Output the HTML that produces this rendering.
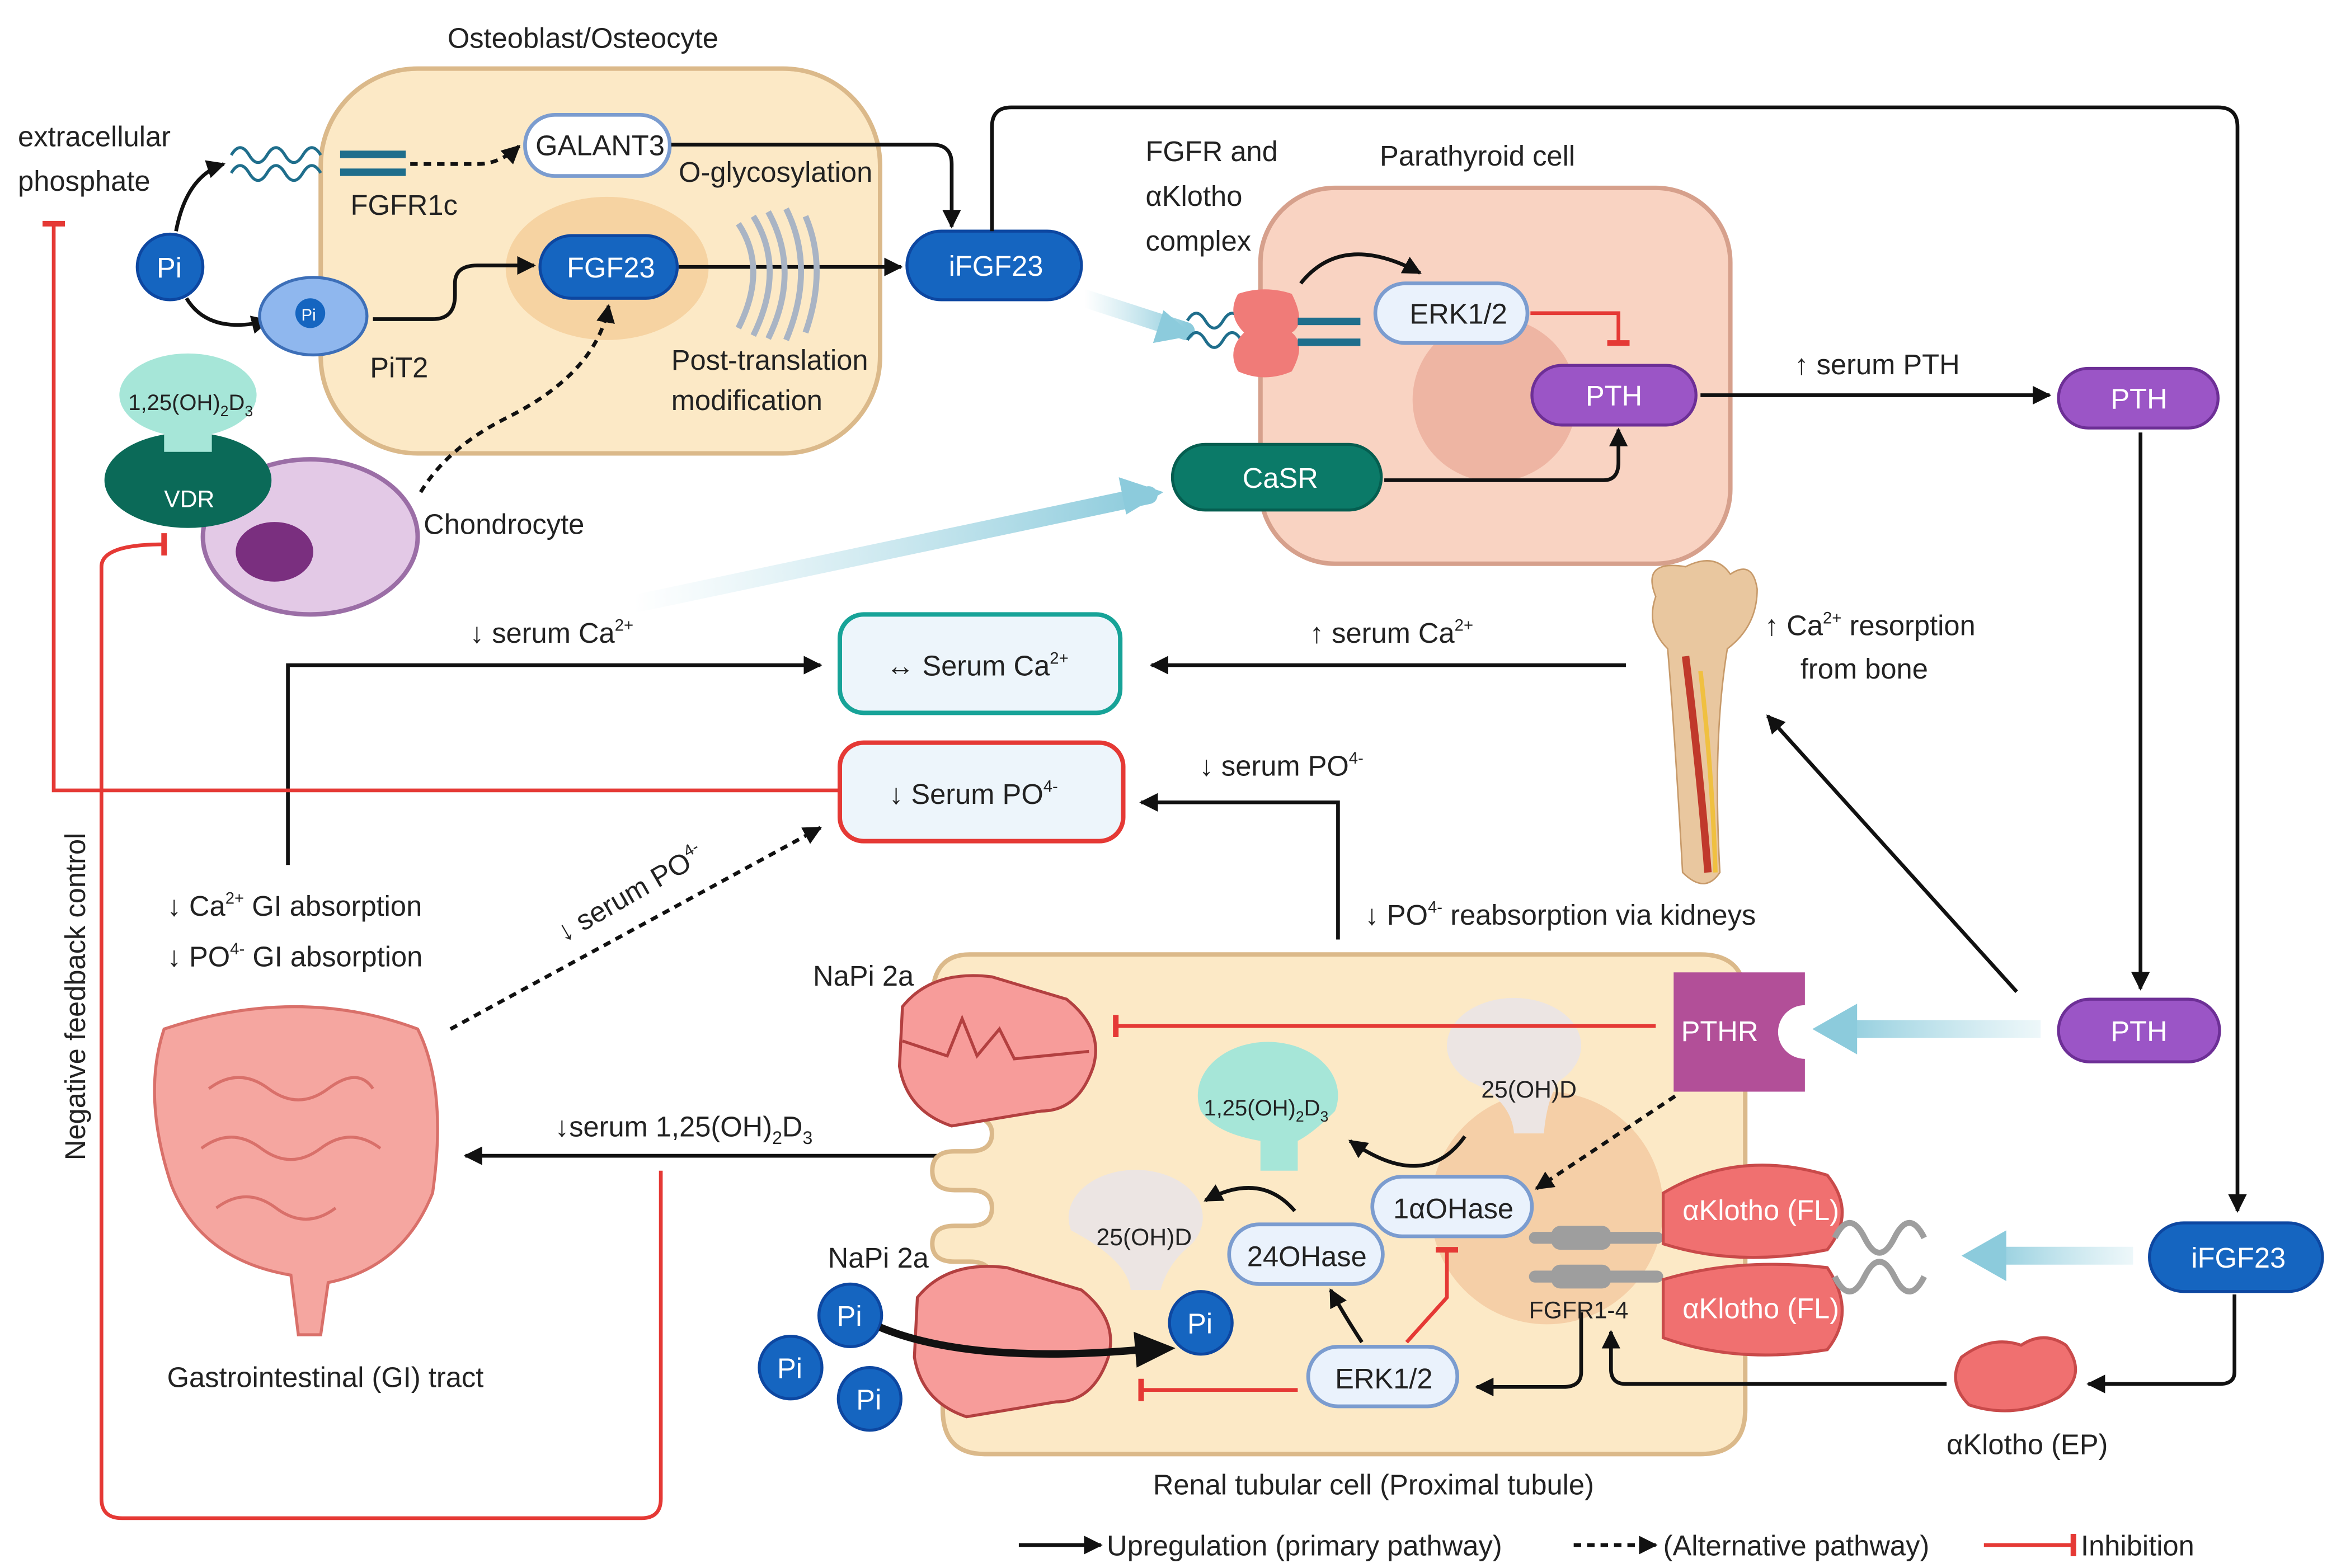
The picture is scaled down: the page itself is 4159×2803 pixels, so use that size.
<!DOCTYPE html>
<html><head><meta charset="utf-8"><style>
html,body{margin:0;padding:0;background:#fff}
svg{display:block}
text{font-family:"Liberation Sans",sans-serif;fill:#222}
</style></head><body>
<svg width="4159" height="2803" viewBox="0 0 1560 1051.4" xmlns="http://www.w3.org/2000/svg">
<defs>
<marker id="a" viewBox="0 0 10 10" refX="9" refY="5" markerWidth="5" markerHeight="5" orient="auto"><path d="M0,0L10,5L0,10z" fill="#111"/></marker>
<marker id="r" viewBox="0 0 10 10" refX="5" refY="5" markerWidth="6" markerHeight="6" orient="auto"><path d="M5,0V10" stroke="#e53935" stroke-width="2.5"/></marker>
<linearGradient id="bl" x1="0" x2="1"><stop offset="0" stop-color="#a7d8e4" stop-opacity="0"/><stop offset="1" stop-color="#8ccbdc"/></linearGradient>
<linearGradient id="bl2" gradientUnits="userSpaceOnUse" x1="1368" y1="0" x2="1230" y2="0"><stop offset="0" stop-color="#a7d8e4" stop-opacity="0.2"/><stop offset="1" stop-color="#8ccbdc"/></linearGradient>
<linearGradient id="bl3" gradientUnits="userSpaceOnUse" x1="1430" y1="0" x2="1330" y2="0"><stop offset="0" stop-color="#a7d8e4" stop-opacity="0.2"/><stop offset="1" stop-color="#8ccbdc"/></linearGradient>
</defs>
<g font-size="19">
<!-- Osteoblast -->
<text x="300" y="32">Osteoblast/Osteocyte</text>
<rect x="215" y="46" width="375" height="258" rx="65" fill="#fce9c6" stroke="#dbb98a" stroke-width="3"/>
<ellipse cx="407" cy="180" rx="68" ry="48" fill="#f6d3a2"/>
<text x="12" y="98">extracellular</text><text x="12" y="128">phosphate</text>
<circle cx="114" cy="179" r="22" fill="#1565c0" stroke="#0d47a1" stroke-width="2"/><text x="105" y="186" style="fill:#fff">Pi</text>
<path d="M118,155 Q125,118 150,110" fill="none" stroke="#111" stroke-width="2.5" marker-end="url(#a)"/>
<path d="M125,200 Q140,225 180,215" fill="none" stroke="#111" stroke-width="2.5" marker-end="url(#a)"/>
<path d="M155,104 q6,-10 12,0 t12,0 t12,0 t12,0 t12,0 M155,116 q6,-10 12,0 t12,0 t12,0 t12,0 t12,0" fill="none" stroke="#1f6e8c" stroke-width="2"/>
<rect x="228" y="101" width="44" height="5" fill="#1f6e8c"/><rect x="228" y="113" width="44" height="5" fill="#1f6e8c"/>
<text x="235" y="144">FGFR1c</text>
<path d="M275,110 H320 Q335,110 348,98" fill="none" stroke="#111" stroke-width="2.5" stroke-dasharray="5,4" marker-end="url(#a)"/>
<rect x="352" y="77" width="97" height="41" rx="20" fill="#fff" stroke="#7b9ccf" stroke-width="2.5"/><text x="359" y="104">GALANT3</text>
<text x="455" y="122">O-glycosylation</text>
<path d="M450,97 H625 Q638,97 638,110 V152" fill="none" stroke="#111" stroke-width="2.5" marker-end="url(#a)"/>
<ellipse cx="210" cy="212" rx="36" ry="26" fill="#8fb7ee" stroke="#3d6fb8" stroke-width="2"/>
<circle cx="208" cy="210" r="10" fill="#1565c0"/><text x="202" y="215" font-size="11" style="fill:#fff">Pi</text>
<text x="248" y="253">PiT2</text>
<path d="M250,214 H290 Q305,214 305,198 V190 Q305,178 320,178 H358" fill="none" stroke="#111" stroke-width="2.5" marker-end="url(#a)"/>
<rect x="362" y="158" width="92" height="42" rx="21" fill="#1565c0" stroke="#0d47a1" stroke-width="2"/><text x="380" y="186" style="fill:#fff">FGF23</text>
<path d="M455,179 H604" stroke="#111" stroke-width="2.5" marker-end="url(#a)"/>
<g stroke="#a9b4c4" stroke-width="4" fill="none"><path d="M495,150 q20,30 0,70"/><path d="M505,145 q22,35 0,80"/><path d="M515,142 q22,40 0,85"/><path d="M527,140 q20,40 0,88"/><path d="M540,145 q15,35 0,78"/></g>
<text x="450" y="248">Post-translation</text><text x="450" y="275">modification</text>
<rect x="608" y="155" width="117" height="46" rx="23" fill="#1565c0" stroke="#0d47a1" stroke-width="2"/><text x="636" y="185" style="fill:#fff">iFGF23</text>
<path d="M665,155 V85 Q665,72 678,72 H1487 Q1500,72 1500,85 V812" fill="none" stroke="#111" stroke-width="2.5" marker-end="url(#a)"/>
<!-- chondrocyte -->
<ellipse cx="208" cy="360" rx="72" ry="52" fill="#e3c9e6" stroke="#9b6ea6" stroke-width="3"/>
<ellipse cx="184" cy="370" rx="26" ry="20" fill="#7a2f7f"/>
<ellipse cx="126" cy="322" rx="56" ry="32" fill="#0b6a58"/><text x="110" y="340" font-size="16" style="fill:#fff">VDR</text>
<path d="M80,265 a46,28 0 1,1 92,0 a46,28 0 0,1 -30,26 v12 h-32 v-12 a46,28 0 0,1 -30,-26z" fill="#a6e6d8"/>
<text x="86" y="275" font-size="15">1,25(OH)<tspan font-size="10" dy="4">2</tspan><tspan dy="-4">D</tspan><tspan font-size="10" dy="4">3</tspan></text>
<text x="284" y="358">Chondrocyte</text>
<path d="M282,330 Q300,300 340,280 Q400,250 408,205" fill="none" stroke="#111" stroke-width="2.5" stroke-dasharray="5,4" marker-end="url(#a)"/>
<!-- parathyroid -->
<text x="768" y="108">FGFR  and</text><text x="768" y="138">αKlotho</text><text x="768" y="168">complex</text>
<text x="925" y="111">Parathyroid cell</text>
<rect x="845" y="126" width="315" height="252" rx="50" fill="#f9d3c2" stroke="#d6a08c" stroke-width="3"/>
<circle cx="1002" cy="268" r="55" fill="#eeb5a3"/>
<path d="M727,200 L795,222" stroke="url(#bl)" stroke-width="12" stroke-linecap="round"/><path d="M780,208 L800,225 L773,230z" fill="#8ccbdc"/>
<path d="M796,215 q6,-10 12,0 t12,0 t12,0 M796,228 q6,-10 12,0 t12,0 t12,0" fill="none" stroke="#1f6e8c" stroke-width="2"/>
<path d="M830,197 q18,-6 36,0 q10,20 0,26 q10,8 0,26 q-18,8 -36,0 q-8,-14 4,-26 q-12,-12 -4,-26z" fill="#f07b78"/>
<rect x="870" y="213" width="42" height="5" fill="#1f6e8c"/><rect x="870" y="227" width="42" height="5" fill="#1f6e8c"/>
<path d="M872,190 Q900,155 952,183" fill="none" stroke="#111" stroke-width="2.5" marker-end="url(#a)"/>
<rect x="922" y="190" width="102" height="40" rx="20" fill="#eaf2fc" stroke="#7b9ccf" stroke-width="2.5"/><text x="945" y="217">ERK1/2</text>
<path d="M1026,210 H1085 V230" fill="none" stroke="#e53935" stroke-width="2.5" marker-end="url(#r)"/>
<rect x="1027" y="245" width="110" height="40" rx="20" fill="#9b55c6" stroke="#6d2f96" stroke-width="2"/><text x="1063" y="272" style="fill:#fff">PTH</text>
<rect x="786" y="298" width="140" height="44" rx="22" fill="#0b7a68" stroke="#055e50" stroke-width="2"/><text x="833" y="327" style="fill:#fff">CaSR</text>
<path d="M928,322 H1075 Q1085,322 1085,310 V288" fill="none" stroke="#111" stroke-width="2.5" marker-end="url(#a)"/>
<path d="M425,405 L770,332" stroke="url(#bl)" stroke-width="12" stroke-linecap="round"/><path d="M750,320 L780,330 L755,345z" fill="#8ccbdc"/>
<text x="1203" y="251">↑ serum PTH</text>
<path d="M1140,265 H1374" stroke="#111" stroke-width="2.5" marker-end="url(#a)"/>
<rect x="1380" y="247" width="107" height="40" rx="20" fill="#9b55c6" stroke="#6d2f96" stroke-width="2"/><text x="1415" y="274" style="fill:#fff">PTH</text>
<path d="M1435,290 V663" stroke="#111" stroke-width="2.5" marker-end="url(#a)"/>
<rect x="1380" y="670" width="108" height="42" rx="21" fill="#9b55c6" stroke="#6d2f96" stroke-width="2"/><text x="1415" y="698" style="fill:#fff">PTH</text>
<!-- serum boxes -->
<text x="315" y="431">↓ serum Ca<tspan font-size="11" dy="-8">2+</tspan></text>
<rect x="563" y="412" width="188" height="66" rx="16" fill="#edf5fb" stroke="#17a398" stroke-width="3"/><text x="594" y="453">↔ Serum Ca<tspan font-size="11" dy="-8">2+</tspan></text>
<text x="878" y="431">↑ serum Ca<tspan font-size="11" dy="-8">2+</tspan></text>
<path d="M1090,446 H772" stroke="#111" stroke-width="2.5" marker-end="url(#a)"/>
<text x="1183" y="426">↑ Ca<tspan font-size="11" dy="-8">2+</tspan><tspan dy="8"> resorption</tspan></text><text x="1207" y="455">from bone</text>
<rect x="563" y="498" width="190" height="66" rx="16" fill="#edf5fb" stroke="#e53935" stroke-width="3"/><text x="596" y="539">↓ Serum PO<tspan font-size="11" dy="-8">4-</tspan></text>
<text x="804" y="520">↓ serum PO<tspan font-size="11" dy="-8">4-</tspan></text>
<path d="M897,630 V538 H765" fill="none" stroke="#111" stroke-width="2.5" marker-end="url(#a)"/>
<text x="915" y="620">↓ PO<tspan font-size="11" dy="-8">4-</tspan><tspan dy="8"> reabsorption via kidneys</tspan></text>
<path d="M193,580 V446 H550" fill="none" stroke="#111" stroke-width="2.5" marker-end="url(#a)"/>
<path d="M562,530 H36 V150" fill="none" stroke="#e53935" stroke-width="2.5" marker-end="url(#r)"/>
<!-- bone -->
<path d="M1110,400 q-10,-25 20,-20 q20,-10 30,5 q15,-10 18,10 q0,25 -20,40 q-10,60 -5,150 q-10,15 -25,0 q-5,-90 -10,-150 q-15,-15 -8,-35z" fill="#e9c79f" stroke="#c79a6a"/>
<path d="M1130,440 Q1140,520 1145,585" stroke="#c0392b" stroke-width="5" fill="none"/><path d="M1140,450 Q1148,520 1150,585" stroke="#f0c040" stroke-width="3" fill="none"/>
<path d="M1352,665 L1185,480" stroke="#111" stroke-width="2.5" marker-end="url(#a)"/>
<!-- GI -->
<text x="112" y="614">↓  Ca<tspan font-size="11" dy="-8">2+</tspan><tspan dy="8">  GI absorption</tspan></text>
<text x="112" y="648">↓  PO<tspan font-size="11" dy="-8">4-</tspan><tspan dy="8">  GI absorption</tspan></text>
<text transform="translate(378,632) rotate(-30)">↓ serum PO<tspan font-size="11" dy="-8">4-</tspan></text>
<path d="M302,690 L550,555" stroke="#111" stroke-width="2.5" stroke-dasharray="5,4" marker-end="url(#a)"/>
<path d="M110,690 q90,-30 170,0 q20,40 10,110 q-20,50 -70,60 l-5,35 h-15 l-5,-40 q-60,-10 -80,-60 q-20,-60 -5,-105z" fill="#f5a6a0" stroke="#d9706a" stroke-width="2"/>
<g fill="none" stroke="#d9706a" stroke-width="2"><path d="M140,730 q20,-15 40,0 t40,0 t30,0"/><path d="M135,770 q20,-15 40,0 t40,0 t40,0"/><path d="M145,810 q20,-15 40,0 t40,0"/></g>
<text x="112" y="930">Gastrointestinal (GI) tract</text>
<text transform="translate(57,778) rotate(-90)">Negative feedback control</text>
<path d="M443,785 V1005 Q443,1018 430,1018 H82 Q68,1018 68,1005 V380 Q68,365 110,365" fill="none" stroke="#e53935" stroke-width="2.5" marker-end="url(#r)"/>
<path d="M820,775 H312" stroke="#111" stroke-width="2.5" marker-end="url(#a)"/>
<text x="372" y="762">↓serum 1,25(OH)<tspan font-size="12" dy="5">2</tspan><tspan dy="-5">D</tspan><tspan font-size="12" dy="5">3</tspan></text>
<!-- renal cell -->
<path d="M650,640 H1140 Q1170,640 1170,670 V945 Q1170,975 1140,975 H660 Q632,975 632,945 V870 H650 Q665,870 665,858 Q665,846 650,846 H640 Q625,846 625,834 Q625,822 640,822 H650 Q665,822 665,810 Q665,798 650,798 H640 Q625,798 625,785 Q625,772 640,772 H650 Q665,772 665,760 Q665,748 645,748 Q625,748 625,720 V670 Q625,640 650,640z" fill="#fce9c6" stroke="#dbb98a" stroke-width="3"/>
<circle cx="1037" cy="810" r="78" fill="#f5cfa7"/>
<text x="545" y="661">NaPi 2a</text><text x="555" y="850">NaPi 2a</text>
<path d="M605,675 q20,-25 60,-20 l50,15 q25,20 18,45 q-10,30 -35,30 l-60,10 q-30,-10 -35,-40z" fill="#f79c9a" stroke="#b34040" stroke-width="2"/>
<path d="M605,698 l30,10 l10,-25 l10,25 l15,-18 l10,20 l50,-5" fill="none" stroke="#b34040" stroke-width="2"/>
<path d="M615,870 q20,-25 60,-20 l50,15 q25,20 18,45 q-10,30 -35,30 l-60,10 q-30,-10 -35,-40z" fill="#f79c9a" stroke="#b34040" stroke-width="2"/>
<path d="M985,725 a45,32 0 1,1 60,0 q-8,12 -10,35 h-20 q-2,-23 -30,-35z" fill="#ece5e3"/><text x="993" y="736" font-size="16">25(OH)D</text>
<path d="M1110,688 H748" stroke="#e53935" stroke-width="2.5" marker-end="url(#r)"/>
<path d="M1122,652 H1210 v22 a18,18 0 0,0 0,36 v22 H1122z" fill="#b24f98"/><text x="1127" y="698" style="fill:#fff">PTHR</text>
<path d="M1368,690 H1235" stroke="url(#bl2)" stroke-width="12"/><path d="M1245,673 L1215,690 L1245,707z" fill="#8ccbdc"/>
<path d="M805,745 a47,36 0 1,1 90,0 q-15,15 -25,20 v20 h-25 v-20 q-30,-5 -40,-20z" fill="#a6e6d8"/>
<text x="807" y="748" font-size="15">1,25(OH)<tspan font-size="10" dy="4">2</tspan><tspan dy="-4">D</tspan><tspan font-size="10" dy="4">3</tspan></text>
<path d="M718,825 a45,32 0 1,1 80,10 q-15,12 -20,30 h-20 q-2,-20 -40,-40z" fill="#ece5e3"/><text x="735" y="835" font-size="16">25(OH)D</text>
<path d="M982,762 Q955,800 905,765" fill="none" stroke="#111" stroke-width="2.5" marker-end="url(#a)"/>
<path d="M1123,735 L1030,797" stroke="#111" stroke-width="2.5" stroke-dasharray="5,4" marker-end="url(#a)"/>
<rect x="920" y="789" width="107" height="40" rx="20" fill="#eaf2fc" stroke="#7b9ccf" stroke-width="2.5"/><text x="934" y="817">1αOHase</text>
<rect x="824" y="821" width="103" height="40" rx="20" fill="#eaf2fc" stroke="#7b9ccf" stroke-width="2.5"/><text x="836" y="849">24OHase</text>
<path d="M868,812 Q845,785 808,805" fill="none" stroke="#111" stroke-width="2.5" marker-end="url(#a)"/>
<rect x="877" y="903" width="100" height="40" rx="20" fill="#eaf2fc" stroke="#7b9ccf" stroke-width="2.5"/><text x="895" y="931">ERK1/2</text>
<path d="M913,900 Q900,880 892,865" fill="none" stroke="#111" stroke-width="2.5" marker-end="url(#a)"/>
<path d="M943,900 L970,870 V838" fill="none" stroke="#e53935" stroke-width="2.5" marker-end="url(#r)"/>
<path d="M870,932 H765" stroke="#e53935" stroke-width="2.5" marker-end="url(#r)"/>
<path d="M1060,880 V920 Q1060,930 1048,930 H990" fill="none" stroke="#111" stroke-width="2.5" marker-end="url(#a)"/>
<path d="M1305,928 H1090 Q1080,928 1080,918 V893" fill="none" stroke="#111" stroke-width="2.5" marker-end="url(#a)"/>
<g fill="#9e9e9e"><rect x="1025" y="826" width="90" height="8" rx="4"/><rect x="1025" y="852" width="90" height="8" rx="4"/><rect x="1040" y="822" width="40" height="16" rx="6"/><rect x="1040" y="848" width="40" height="16" rx="6"/></g>
<text x="1025" y="884" font-size="16">FGFR1-4</text>
<path d="M1115,800 q50,-30 110,-12 q20,25 0,50 q-60,12 -110,-4z" fill="#f07070" stroke="#c94a4a" stroke-width="2"/><text x="1128" y="818" style="fill:#fff">αKlotho (FL)</text>
<path d="M1115,858 q50,-15 110,-8 q20,30 0,55 q-60,10 -110,-8z" fill="#f07070" stroke="#c94a4a" stroke-width="2"/><text x="1128" y="884" style="fill:#fff">αKlotho (FL)</text>
<path d="M1230,830 q10,-20 20,0 t20,0 t20,0 M1230,856 q10,20 20,0 t20,0 t20,0" fill="none" stroke="#9e9e9e" stroke-width="4"/>
<path d="M1430,842 H1335" stroke="url(#bl3)" stroke-width="12"/><path d="M1345,825 L1315,842 L1345,859z" fill="#8ccbdc"/>
<rect x="1441" y="820" width="116" height="46" rx="23" fill="#1565c0" stroke="#0d47a1" stroke-width="2"/><text x="1469" y="850" style="fill:#fff">iFGF23</text>
<path d="M1498,868 V920 Q1498,928 1488,928 H1400" fill="none" stroke="#111" stroke-width="2.5" marker-end="url(#a)"/>
<path d="M1315,910 q20,-15 40,-8 q15,-10 30,0 q15,20 -5,35 q-30,15 -60,5 q-15,-15 -5,-32z" fill="#f07070" stroke="#c94a4a" stroke-width="2"/>
<text x="1305" y="975">αKlotho (EP)</text>
<text x="773" y="1002">Renal tubular cell (Proximal tubule)</text>
<!-- Pi circles -->
<g fill="#1565c0" stroke="#0d47a1" stroke-width="2"><circle cx="570" cy="882" r="21"/><circle cx="530" cy="917" r="21"/><circle cx="583" cy="938" r="21"/><circle cx="805" cy="887" r="21"/></g>
<text x="561" y="889" style="fill:#fff">Pi</text><text x="521" y="924" style="fill:#fff">Pi</text><text x="574" y="945" style="fill:#fff">Pi</text><text x="796" y="894" style="fill:#fff">Pi</text>
<path d="M590,890 Q650,915 765,905" fill="none" stroke="#111" stroke-width="5"/><path d="M760,893 L788,904 L762,917z" fill="#111"/>
<!-- legend -->
<path d="M683,1036 H738" stroke="#111" stroke-width="2.5" marker-end="url(#a)"/><text x="742" y="1043">Upregulation (primary pathway)</text>
<path d="M1055,1036 H1110" stroke="#111" stroke-width="2.5" stroke-dasharray="5,4" marker-end="url(#a)"/><text x="1115" y="1043">(Alternative pathway)</text>
<path d="M1330,1036 H1390" stroke="#e53935" stroke-width="2.5" marker-end="url(#r)"/><text x="1395" y="1043">Inhibition</text>
</g>
</svg>
</body></html>
